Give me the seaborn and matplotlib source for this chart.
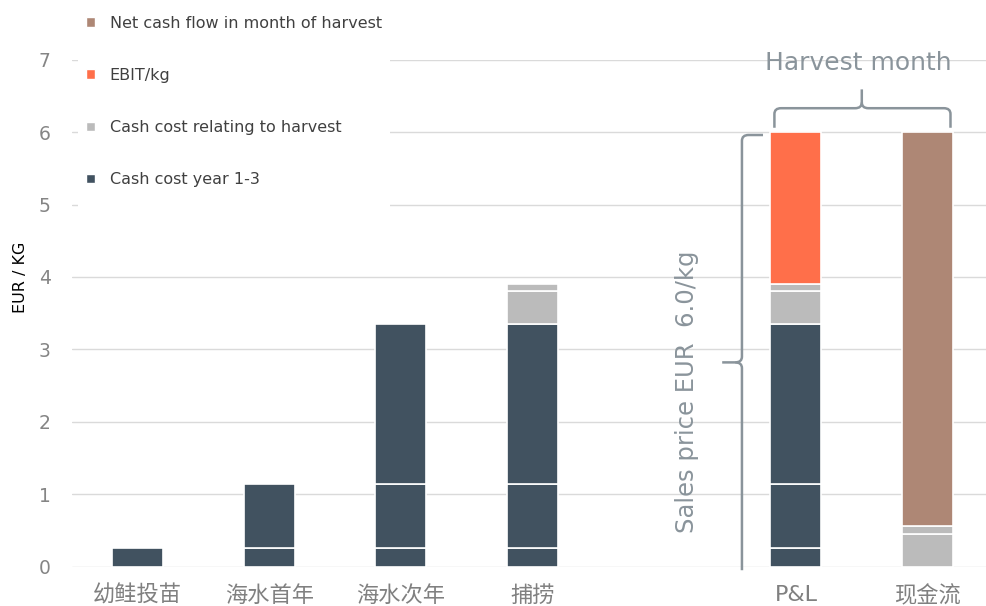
import matplotlib
matplotlib.use('Agg')
import matplotlib.pyplot as plt
import seaborn as sns
import numpy as np
import pandas as pd
from matplotlib.patches import Patch, Rectangle, PathPatch
from matplotlib.path import Path

categories = ["幼鲑投苗", "海水首年", "海水次年", "捕捞", " ", "P&L", "现金流"]

# stacked segments, bottom to top
cost_year1 = [0.26, 0.26, 0.26, 0.26, 0, 0.26, 0]
cost_year2 = [0, 0.88, 0.88, 0.88, 0, 0.88, 0]
cost_year3 = [0, 0, 2.21, 2.21, 0, 2.21, 0]
harvest_cost_a = [0, 0, 0, 0.46, 0, 0.46, 0.45]
harvest_cost_b = [0, 0, 0, 0.09, 0, 0.09, 0.11]
ebit_kg = [0, 0, 0, 0, 0, 2.10, 0]
net_cash_flow = [0, 0, 0, 0, 0, 0, 5.44]
sales_price = 6.0

legend_labels = ["Net cash flow in month of harvest", "EBIT/kg",
                 "Cash cost relating to harvest", "Cash cost year 1-3"]

DARK = "#415260"
GREY = "#BBBBBB"
ORANGE = "#FF6F4A"
BROWN = "#AE8775"
NOTE = "#8A949B"

layers = [(cost_year1, DARK), (cost_year2, DARK), (cost_year3, DARK),
          (harvest_cost_a, GREY), (harvest_cost_b, GREY),
          (ebit_kg, ORANGE), (net_cash_flow, BROWN)]

sns.set_style("white")
plt.rcParams['font.family'] = ['DejaVu Sans', 'Noto Sans CJK SC']

fig = plt.figure(figsize=(9.86, 6.06), dpi=100)
ax = fig.add_axes([0.0726, 0.065, 0.935, 0.8365])

bar_w = 0.387
bottom = np.zeros(len(categories))
cats = np.array(categories)
for vals, col in layers:
    vals = np.array(vals, dtype=float)
    mask = vals > 0
    df = pd.DataFrame({"cat": cats[mask], "val": vals[mask]})
    sns.barplot(data=df, x="cat", y="val", order=categories, bottom=bottom[mask],
                color=col, saturation=1, width=bar_w, edgecolor="white",
                linewidth=1.2, errorbar=None, ax=ax, zorder=3)
    bottom += vals

ax.set_xlim(-0.5, len(categories) - 0.5)
ax.set_ylim(0, 7)
ax.set_yticks(range(0, 8))
ax.yaxis.grid(True, color="#DADADA", lw=1)
ax.set_axisbelow(True)
sns.despine(ax=ax, left=True, bottom=True)
ax.tick_params(axis="y", length=0, pad=15, labelsize=13.5, labelcolor="#858585")
ax.tick_params(axis="x", length=0, pad=13, labelsize=16, labelcolor="#808080")
ax.set_xlabel("")
ax.set_ylabel("EUR / KG", fontsize=11.5, color="black")
ax.yaxis.set_label_coords(-0.047, 0.57)


def draw_path(verts, codes):
    ax.add_patch(PathPatch(Path(verts, codes), fill=False, edgecolor=NOTE,
                           lw=1.8, clip_on=False, zorder=4))


# "Harvest month" brace over P&L and cash flow bars
i_pl, i_cf = categories.index("P&L"), categories.index("现金流")
x0, x1 = i_pl - bar_w / 2 + 0.03, i_cf + bar_w / 2 - 0.02
xm = (i_pl + i_cf) / 2
y_end, y_bar, y_tip = sales_price + 0.06, sales_price + 0.33, sales_price + 0.59
rx, ry = 0.05, 0.08
M, L, C = Path.MOVETO, Path.LINETO, Path.CURVE3
draw_path([(x0, y_end), (x0, y_bar - ry), (x0, y_bar), (x0 + rx, y_bar),
           (xm - rx, y_bar), (xm, y_bar), (xm, y_bar + ry), (xm, y_tip)],
          [M, L, C, C, L, C, C, L])
draw_path([(x1, y_end), (x1, y_bar - ry), (x1, y_bar), (x1 - rx, y_bar),
           (xm + rx, y_bar), (xm, y_bar), (xm, y_bar + ry)],
          [M, L, C, C, L, C, C])
ax.text(xm - 0.03, sales_price + 0.95, "Harvest month", ha="center", va="center",
        fontsize=18, color=NOTE)

# vertical bracket for sales price
xv = i_pl - 0.41
y_top, y_mid, y_bot = sales_price - 0.04, 2.82, -0.05
draw_path([(i_pl - 0.25, y_top), (xv + rx, y_top), (xv, y_top), (xv, y_top - ry),
           (xv, y_mid + ry), (xv, y_mid), (xv - rx, y_mid), (i_pl - 0.56, y_mid)],
          [M, L, C, C, L, C, C, L])
draw_path([(xv - rx, y_mid), (xv, y_mid), (xv, y_mid - ry), (xv, y_bot)],
          [M, C, C, L])
ax.text(i_pl - 0.83, 2.42, f"Sales price EUR  {sales_price:.1f}/kg", rotation=90,
        ha="center", va="center", fontsize=17.5, color=NOTE)

# white box behind legend hides gridlines, as in the original
fig.add_artist(Rectangle((78 / 986, 1 - 212 / 606), (390 - 78) / 986, 212 / 606,
                         transform=fig.transFigure, facecolor="white",
                         edgecolor="none", zorder=2))

handles = [Patch(facecolor=c) for c in (BROWN, ORANGE, GREY, DARK)]
fig.legend(handles, legend_labels, loc="upper left", bbox_to_anchor=(0.073, 0.998),
           frameon=False, fontsize=11.5, labelcolor="#404040", labelspacing=2.33,
           handlelength=0.55, handleheight=0.55, handletextpad=0.92, borderpad=0.4)

fig.savefig("out.png", dpi=100)
